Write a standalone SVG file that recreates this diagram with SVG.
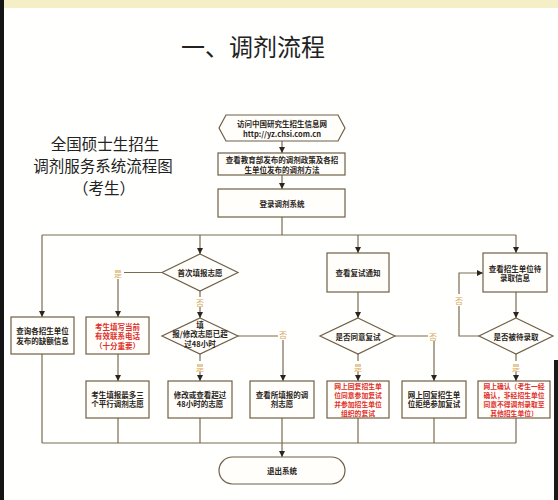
<svg xmlns="http://www.w3.org/2000/svg" width="558" height="500" viewBox="0 0 558 500">
<style>
.box{fill:#fffefb;stroke:#6e5f47;stroke-width:1.2}
.ln{fill:none;stroke:#7a6b52;stroke-width:1.2}
.t{font-family:"Noto Sans CJK SC","Noto Sans",sans-serif;font-size:7.5px;font-weight:700;fill:#2a2520;text-anchor:middle;dominant-baseline:central}
.r{fill:#e0302a}
.s{font-size:6.8px}
.lb{font-family:"Noto Sans CJK SC",sans-serif;font-size:8px;fill:#d9a85a;text-anchor:middle;dominant-baseline:central}
.h{font-family:"Noto Sans CJK SC","Noto Sans",sans-serif;fill:#222;text-anchor:middle;dominant-baseline:central}
</style>
<defs>
<marker id="a" markerUnits="userSpaceOnUse" markerWidth="6" markerHeight="6" refX="6" refY="3" orient="auto">
<path d="M0,0 L6,3 L0,6 z" fill="#2a2520"/>
</marker>
</defs>
<rect width="558" height="500" fill="#fffffd"/>
<rect width="558" height="8" fill="#f4efc6"/>
<rect x="0" y="0" width="4" height="500" fill="#151515"/>
<rect x="554" y="360" width="4" height="140" fill="#1a1a1a"/>

<text class="h" x="253" y="45" font-size="24">一、调剂流程</text>
<g id="subtitle">
<text class="h" x="105" y="143" font-size="15.5">全国硕士生招生</text>
<text class="h" x="103" y="165" font-size="15.5">调剂服务系统流程图</text>
<text class="h" x="104" y="187" font-size="15.5">（考生）</text>
</g>

<g id="connectors">
<path class="ln" d="M282,141 V153" marker-end="url(#a)"/>
<path class="ln" d="M282,175 V189" marker-end="url(#a)"/>
<path class="ln" d="M282,217 V235"/>
<path class="ln" d="M42,235 H516"/>
<path class="ln" d="M42,235 V317" marker-end="url(#a)"/>
<path class="ln" d="M200,235 V254" marker-end="url(#a)"/>
<path class="ln" d="M358,235 V253" marker-end="url(#a)"/>
<path class="ln" d="M516,235 V253" marker-end="url(#a)"/>
<path class="ln" d="M162,272.5 H124"/>
<path class="ln" d="M118,279 V317" marker-end="url(#a)"/>
<path class="ln" d="M200,291 V297"/>
<path class="ln" d="M200,307 V318" marker-end="url(#a)"/>
<path class="ln" d="M238,336 H278"/>
<path class="ln" d="M283,340 V381" marker-end="url(#a)"/>
<path class="ln" d="M200,354 V361"/>
<path class="ln" d="M200,372 V381" marker-end="url(#a)"/>
<path class="ln" d="M118,354 V381" marker-end="url(#a)"/>
<path class="ln" d="M358,292 V318" marker-end="url(#a)"/>
<path class="ln" d="M395,336 H428"/>
<path class="ln" d="M434,341 V381" marker-end="url(#a)"/>
<path class="ln" d="M358,354 V361"/>
<path class="ln" d="M358,372 V381" marker-end="url(#a)"/>
<path class="ln" d="M516,292 V318" marker-end="url(#a)"/>
<path class="ln" d="M479,336 H459 V306"/>
<path class="ln" d="M459,294 V273 H483" marker-end="url(#a)"/>
<path class="ln" d="M516,354 V361"/>
<path class="ln" d="M516,372 V381" marker-end="url(#a)"/>
<path class="ln" d="M42,443 H516"/>
<path class="ln" d="M42,354 V443"/>
<path class="ln" d="M118,418 V443"/>
<path class="ln" d="M200,418 V443"/>
<path class="ln" d="M282,418 V457" marker-end="url(#a)"/>
<path class="ln" d="M358,418 V443"/>
<path class="ln" d="M434,418 V443"/>
<path class="ln" d="M516,418 V443"/>
<text class="lb" x="118" y="273">是</text>
<text class="lb" x="200" y="302">否</text>
<text class="lb" x="283" y="334">否</text>
<text class="lb" x="200" y="367">是</text>
<text class="lb" x="433" y="336">否</text>
<text class="lb" x="358" y="367">是</text>
<text class="lb" x="459" y="300">否</text>
<text class="lb" x="516" y="367">是</text>
</g>

<g id="n-visit">
<polygon class="box" points="226,115 338,115 345,128 338,141 226,141 219,128"/>
<text class="t" x="282" y="123.5" font-weight="400">访问中国研究生招生信息网</text>
<text class="t" x="282" y="133.5" font-weight="400">http://yz.chsi.com.cn</text>
</g>
<g id="n-policy">
<rect class="box" x="218" y="153" width="127" height="22"/>
<text class="t" x="282" y="159.5">查看教育部发布的调剂政策及各招</text>
<text class="t" x="282" y="169">生单位发布的调剂方法</text>
</g>
<g id="n-login">
<rect class="box" x="218" y="189" width="127" height="28"/>
<text class="t" x="282" y="203">登录调剂系统</text>
</g>
<g id="n-vacancy">
<rect class="box" x="11" y="317" width="63" height="37"/>
<text class="t" x="42.5" y="330.5">查询各招生单位</text>
<text class="t" x="42.5" y="340">发布的缺额信息</text>
</g>
<g id="n-first">
<polygon class="box" points="200,254 238,272.5 200,291 162,272.5"/>
<text class="t" x="200" y="272.5">首次填报志愿</text>
</g>
<g id="n-phone">
<rect class="box" x="86" y="317" width="63" height="37"/>
<text class="t r" x="117.5" y="326">考生填写当前</text>
<text class="t r" x="117.5" y="335.5">有效联系电话</text>
<text class="t r" x="117.5" y="345">（十分重要）</text>
</g>
<g id="n-48h">
<polygon class="box" points="200,318 238,336 200,354 162,336"/>
<text class="t" x="200" y="324">填</text>
<text class="t" x="200" y="333.5">报/修改志愿已超</text>
<text class="t" x="200" y="343">过48小时</text>
</g>
<g id="n-retest">
<rect class="box" x="327" y="253" width="62" height="39"/>
<text class="t" x="358" y="272.5">查看复试通知</text>
</g>
<g id="n-agree">
<polygon class="box" points="358,318 395,336 358,354 320,336"/>
<text class="t" x="358" y="336">是否同意复试</text>
</g>
<g id="n-admitinfo">
<rect class="box" x="483" y="253" width="64" height="39"/>
<text class="t" x="515" y="268">查看招生单位待</text>
<text class="t" x="515" y="277.5">录取信息</text>
</g>
<g id="n-admitted">
<polygon class="box" points="516,318 553,336 516,354 479,336"/>
<text class="t" x="516" y="336">是否被待录取</text>
</g>
<g id="n-three">
<rect class="box" x="86" y="381" width="63" height="37"/>
<text class="t" x="117.5" y="394">考生填报最多三</text>
<text class="t" x="117.5" y="403.5">个平行调剂志愿</text>
</g>
<g id="n-modify">
<rect class="box" x="168" y="381" width="64" height="37"/>
<text class="t" x="200" y="394">修改或查看超过</text>
<text class="t" x="200" y="403.5">48小时的志愿</text>
</g>
<g id="n-view">
<rect class="box" x="250" y="381" width="64" height="37"/>
<text class="t" x="282" y="394">查看所填报的调</text>
<text class="t" x="282" y="403.5">剂志愿</text>
</g>
<g id="n-accept">
<rect class="box" x="327" y="381" width="62" height="37"/>
<text class="t r s" x="358" y="385.5">网上回复招生单</text>
<text class="t r s" x="358" y="394.5">位同意参加复试</text>
<text class="t r s" x="358" y="403.5">并参加招生单位</text>
<text class="t r s" x="358" y="412.5">组织的复试</text>
</g>
<g id="n-refuse">
<rect class="box" x="402" y="381" width="64" height="37"/>
<text class="t" x="434" y="394">网上回复招生单</text>
<text class="t" x="434" y="403.5">位拒绝参加复试</text>
</g>
<g id="n-confirm">
<rect class="box" x="478" y="381" width="72" height="37"/>
<text class="t r s" x="514" y="385.5">网上确认（考生一经</text>
<text class="t r s" x="514" y="394.5">确认，非经招生单位</text>
<text class="t r s" x="514" y="403.5">同意不得调剂录取至</text>
<text class="t r s" x="514" y="412.5">其他招生单位）</text>
</g>
<g id="n-exit">
<rect class="box" x="219" y="457" width="126" height="27" rx="13.5"/>
<text class="t" x="282" y="470.5">退出系统</text>
</g>
</svg>
